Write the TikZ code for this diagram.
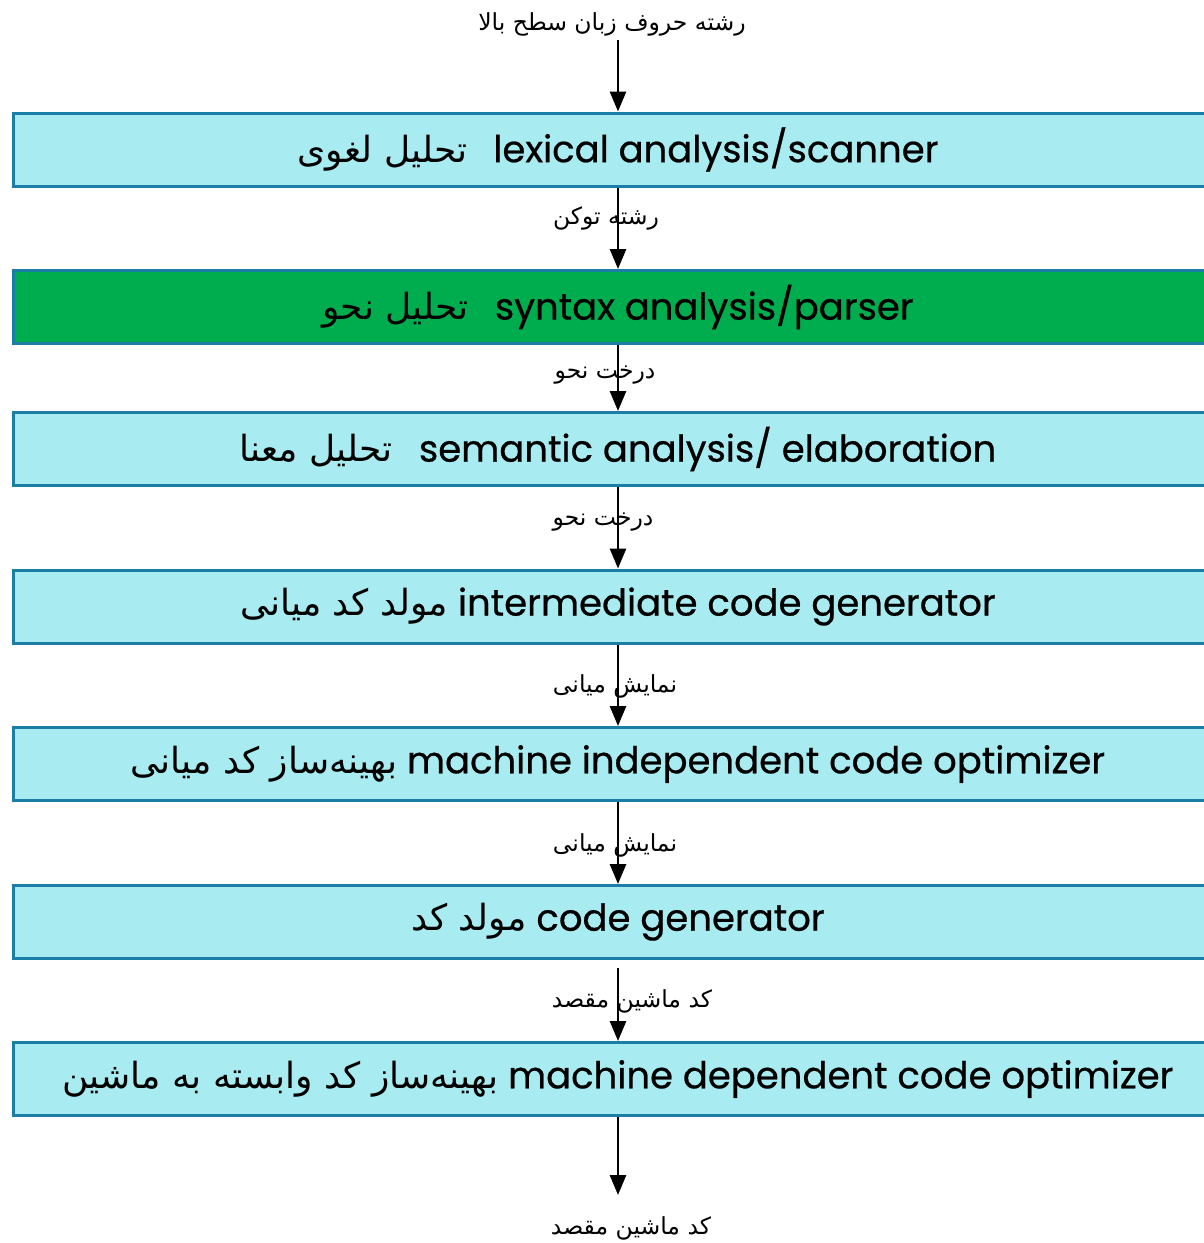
\documentclass[tikz,border=0pt]{standalone}
\usepackage{fontspec}
\setmainfont{Poppins}[FakeBold=0.6]
\newfontfamily\fa[Script=Arabic]{DejaVu Sans}
\TeXXeTstate=1
\usetikzlibrary{arrows.meta}
\definecolor{boxfill}{HTML}{A8EBF0}
\definecolor{boxline}{HTML}{1C7EA6}
\definecolor{boxgreen}{HTML}{00AD4E}
\tikzset{
  stage/.style={draw=boxline, fill=boxfill, line width=3pt, minimum width=1210pt,
    minimum height=73pt, inner sep=0pt, font=\fontsize{37}{40}\selectfont},
  flow/.style={line width=2.8pt, -{Triangle[length=20pt,width=16pt]}},
  lbl/.style={inner sep=0pt, font=\fa\fontsize{23.5}{26}\selectfont},
}
\newcommand{\rtl}[1]{{\fa\fontsize{36}{40}\selectfont\beginR #1\endR}}
\begin{document}
\begin{tikzpicture}[x=1pt,y=-1pt]
\useasboundingbox (0,0) rectangle (1204,1243);
\node[stage] (b1) at (618,149.5) {\rtl{تحلیل لغوی}\hspace{26pt}lexical analysis/scanner};
\node[stage, fill=boxgreen] (b2) at (618,307) {\rtl{تحلیل نحو}\hspace{26pt}syntax analysis/parser};
\node[stage] (b3) at (618,449) {\rtl{تحلیل معنا}\hspace{26pt}semantic analysis/ elaboration};
\node[stage] (b4) at (618,606.5) {\rtl{مولد کد میانی} intermediate code generator};
\node[stage] (b5) at (618,764) {\rtl{بهینه‌ساز کد میانی} machine independent code optimizer};
\node[stage] (b6) at (618,922) {\rtl{مولد کد} code generator};
\node[stage] (b7) at (618,1079) {\rtl{بهینه‌ساز کد وابسته به ماشین} machine dependent code optimizer};

\node[lbl] (l0) at (612,24) {\beginR رشته حروف زبان سطح بالا\endR};
\node[lbl] (l1) at (606,218) {\beginR رشته توکن\endR};
\node[lbl] (l2) at (605,375) {\beginR درخت نحو\endR};
\node[lbl] (l3) at (603,522) {\beginR درخت نحو\endR};
\node[lbl] (l4) at (615,686) {\beginR نمایش میانی\endR};
\node[lbl] (l5) at (615,845) {\beginR نمایش میانی\endR};
\node[lbl] (l6) at (632,1001) {\beginR کد ماشین مقصد\endR};
\node[lbl] (l7) at (631,1228) {\beginR کد ماشین مقصد\endR};

\coordinate (top) at (618,40);
\coordinate (s6) at (618,968);
\coordinate (bot) at (618,1195);

\draw[flow] (top) -- (b1.north);
\draw[flow] (b1.south) -- (b2.north);
\draw[flow] (b2.south) -- (b3.north);
\draw[flow] (b3.south) -- (b4.north);
\draw[flow] (b4.south) -- (b5.north);
\draw[flow] (b5.south) -- (b6.north);
\draw[flow] (s6) -- (b7.north);
\draw[flow] (b7.south) -- (bot);
\end{tikzpicture}
\end{document}
